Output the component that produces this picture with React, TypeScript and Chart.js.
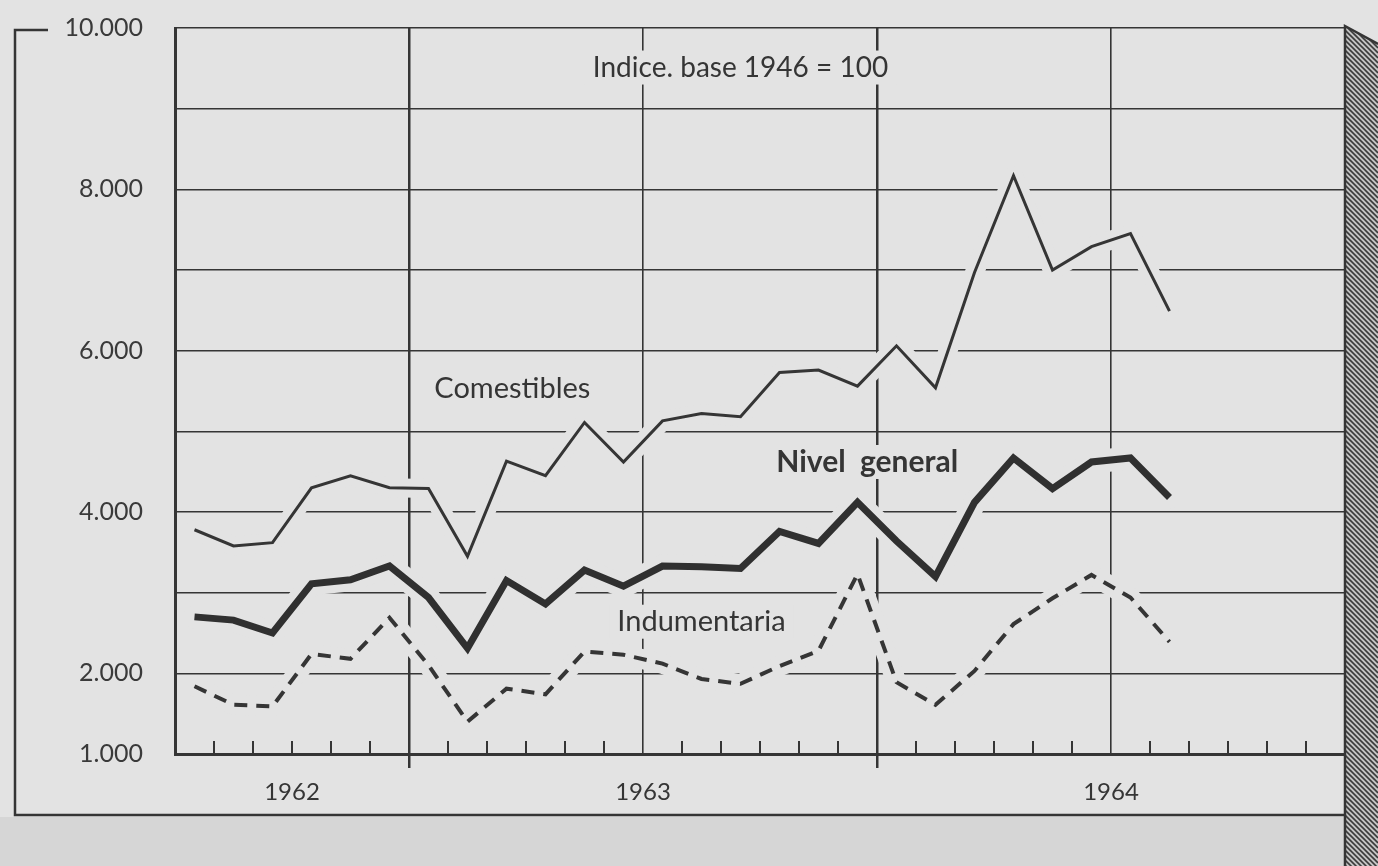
import React, { useEffect, useRef } from "react";
import { Chart, registerables } from "chart.js";

Chart.register(...registerables);

// Monthly observations, July 1962 – August 1964 (índice, base 1946 = 100)
const months = [
  "Jul 1962", "Ago 1962", "Sep 1962", "Oct 1962", "Nov 1962", "Dic 1962",
  "Ene 1963", "Feb 1963", "Mar 1963", "Abr 1963", "May 1963", "Jun 1963",
  "Jul 1963", "Ago 1963", "Sep 1963", "Oct 1963", "Nov 1963", "Dic 1963",
  "Ene 1964", "Feb 1964", "Mar 1964", "Abr 1964", "May 1964", "Jun 1964",
  "Jul 1964", "Ago 1964",
];

const comestibles = [
  3780, 3580, 3620, 4300, 4450, 4300,
  4290, 3450, 4630, 4450, 5110, 4620,
  5130, 5220, 5180, 5730, 5760, 5560,
  6060, 5540, 6970, 8170, 7000, 7290,
  7450, 6490,
];

const nivelGeneral = [
  2700, 2660, 2500, 3110, 3160, 3330,
  2940, 2310, 3150, 2860, 3280, 3080,
  3330, 3320, 3300, 3760, 3610, 4120,
  3640, 3200, 4120, 4670, 4290, 4620,
  4670, 4180,
];

const indumentaria = [
  1840, 1610, 1590, 2240, 2180, 2690,
  2100, 1400, 1810, 1740, 2270, 2230,
  2120, 1930, 1870, 2090, 2280, 3230,
  1890, 1610, 2030, 2610, 2930, 3220,
  2940, 2390,
];

// Axis: 30 months (Jul 1962 – Dec 1964), ticks on month boundaries
const axisMonthCount = 30;
const yearLabels = ["1962", "1963", "1964"];
const yearLabelAt = [3, 12, 24];
const yearBoundaries = [6, 18];
const midYearLines = [12, 24];
const yLabelValues = [1000, 2000, 4000, 6000, 8000, 10000];

const titleText = "Indice. base 1946 = 100";
const seriesLabels = ["Comestibles", "Nivel general", "Indumentaria"];

const PAPER = "#e3e3e3";
const INK = "#353535";
const FONT = "Lato, 'Open Sans', sans-serif";

const fmtThousands = (v: number) =>
  String(Math.round(v)).replace(/\B(?=(\d{3})+(?!\d))/g, ".");

export default function App() {
  const canvasRef = useRef<HTMLCanvasElement | null>(null);

  useEffect(() => {
    document.body.style.background = PAPER;
    const canvas = canvasRef.current;
    if (!canvas) return;

    const toPoints = (arr: number[]) => arr.map((v, i) => ({ x: i + 0.5, y: v }));

    const backgroundPlugin = {
      id: "paperBackground",
      beforeDraw(chart: any) {
        const { ctx, width, height, chartArea } = chart;
        ctx.save();
        ctx.fillStyle = PAPER;
        ctx.fillRect(0, 0, width, height);
        // darker area below the card
        ctx.fillStyle = "#d6d6d6";
        ctx.fillRect(0, 817, width, height - 817);
        // outer frame
        ctx.strokeStyle = INK;
        ctx.lineWidth = 2.5;
        ctx.beginPath();
        ctx.moveTo(48, 30);
        ctx.lineTo(15, 30);
        ctx.lineTo(15, 815);
        ctx.lineTo(chartArea.right + 4, 815);
        ctx.stroke();
        // hatched 3D side on the right
        const x0 = chartArea.right;
        const x1 = width;
        const topY = chartArea.top - 2;
        ctx.beginPath();
        ctx.moveTo(x0, topY);
        ctx.lineTo(x1, topY + 18);
        ctx.lineTo(x1, height);
        ctx.lineTo(x0, height);
        ctx.closePath();
        ctx.fillStyle = "#c4c4c4";
        ctx.fill();
        ctx.save();
        ctx.clip();
        ctx.strokeStyle = "#3a3a3a";
        ctx.lineWidth = 1.6;
        for (let k = -60; k < height + 60; k += 5) {
          ctx.beginPath();
          ctx.moveTo(x0, k);
          ctx.lineTo(x1, k + (x1 - x0));
          ctx.stroke();
        }
        ctx.restore();
        ctx.strokeStyle = INK;
        ctx.lineWidth = 2.5;
        ctx.beginPath();
        ctx.moveTo(x0, height);
        ctx.lineTo(x0, topY);
        ctx.lineTo(x1, topY + 18);
        ctx.stroke();
        ctx.restore();
      },
    };

    const decorPlugin = {
      id: "decor",
      beforeDatasetsDraw(chart: any) {
        const { ctx, chartArea } = chart;
        const xs = chart.scales.x;
        const ys = chart.scales.y;
        ctx.save();
        // halos: gridlines are interrupted where the curves cross them
        ctx.save();
        ctx.beginPath();
        ctx.rect(chartArea.left + 2, chartArea.top + 2, chartArea.right - chartArea.left - 4, chartArea.bottom - chartArea.top - 4);
        ctx.clip();
        chart.data.datasets.forEach((ds: any, i: number) => {
          const meta = chart.getDatasetMeta(i);
          ctx.beginPath();
          let started = false;
          meta.data.forEach((pt: any) => {
            if (!started) {
              ctx.moveTo(pt.x, pt.y);
              started = true;
            } else ctx.lineTo(pt.x, pt.y);
          });
          ctx.lineWidth = (ds.borderWidth as number) + 16;
          ctx.strokeStyle = PAPER;
          ctx.lineJoin = "round";
          ctx.lineCap = "round";
          ctx.stroke();
        });
        ctx.restore();

        // month tick marks standing on the baseline
        ctx.strokeStyle = INK;
        ctx.lineWidth = 2;
        for (let m = 1; m < axisMonthCount; m++) {
          if (yearBoundaries.includes(m) || midYearLines.includes(m)) continue;
          const px = xs.getPixelForValue(m);
          ctx.beginPath();
          ctx.moveTo(px, chartArea.bottom);
          ctx.lineTo(px, chartArea.bottom - 13);
          ctx.stroke();
        }

        // text labels with paper-coloured knock-out behind them
        const labels = [
          { text: titleText, x: 14.5, y: 9510, font: `400 28px ${FONT}`, ws: "0px" },
          { text: seriesLabels[0], x: 8.65, y: 5530, font: `400 29px ${FONT}`, ws: "0px" },
          { text: seriesLabels[1], x: 17.75, y: 4620, font: `700 30px ${FONT}`, ws: "7px" },
          { text: seriesLabels[2], x: 13.5, y: 2640, font: `400 29px ${FONT}`, ws: "0px" },
        ];
        ctx.textAlign = "center";
        ctx.textBaseline = "middle";
        labels.forEach((l) => {
          ctx.font = l.font;
          try {
            (ctx as any).wordSpacing = l.ws;
          } catch (e) {
            /* ignore */
          }
          const px = xs.getPixelForValue(l.x);
          const py = ys.getPixelForValue(l.y);
          const w = ctx.measureText(l.text).width;
          ctx.fillStyle = PAPER;
          ctx.fillRect(px - w / 2 - 8, py - 17, w + 16, 34);
          ctx.fillStyle = INK;
          ctx.fillText(l.text, px, py);
        });
        try {
          (ctx as any).wordSpacing = "0px";
        } catch (e) {
          /* ignore */
        }
        ctx.restore();
      },
    };

    const chart = new Chart(canvas, {
      type: "line",
      data: {
        labels: months,
        datasets: [
          {
            label: seriesLabels[0],
            data: toPoints(comestibles),
            borderColor: INK,
            borderWidth: 3,
            pointRadius: 0,
            tension: 0,
            fill: false,
          },
          {
            label: seriesLabels[1],
            data: toPoints(nivelGeneral),
            borderColor: "#303030",
            borderWidth: 7,
            pointRadius: 0,
            tension: 0,
            fill: false,
            borderJoinStyle: "miter",
          },
          {
            label: seriesLabels[2],
            data: toPoints(indumentaria),
            borderColor: INK,
            borderWidth: 4,
            borderDash: [13, 9],
            pointRadius: 0,
            tension: 0,
            fill: false,
          },
        ],
      },
      options: {
        animation: false,
        responsive: false,
        maintainAspectRatio: false,
        layout: { padding: { left: 0, right: 33, top: 28, bottom: 0 } },
        plugins: {
          legend: { display: false },
          tooltip: { enabled: false },
          title: { display: false },
        },
        scales: {
          x: {
            type: "linear",
            min: 0,
            max: axisMonthCount,
            afterFit: (s: any) => {
              s.height = 112;
              s.paddingLeft = 0;
              s.paddingRight = 0;
            },
            ticks: {
              stepSize: 1,
              autoSkip: false,
              maxRotation: 0,
              padding: 10,
              color: INK,
              font: { family: FONT, size: 24 },
              callback: (v: any) => {
                const idx = yearLabelAt.indexOf(Number(v));
                return idx >= 0 ? yearLabels[idx] : "";
              },
            },
            grid: {
              color: (c: any) => {
                const v = c.tick ? c.tick.value : -1;
                return yearBoundaries.includes(v) || midYearLines.includes(v) ? INK : "rgba(0,0,0,0)";
              },
              lineWidth: (c: any) => {
                const v = c.tick ? c.tick.value : -1;
                return yearBoundaries.includes(v) ? 2.5 : 1.6;
              },
              tickColor: (c: any) => {
                const v = c.tick ? c.tick.value : -1;
                return yearBoundaries.includes(v) ? INK : "rgba(0,0,0,0)";
              },
              tickLength: 14,
              tickWidth: 2.5,
            },
            border: { display: true, color: INK, width: 3 },
          },
          y: {
            type: "linear",
            min: 1000,
            max: 10000,
            afterFit: (s: any) => {
              s.width = 175;
              s.paddingTop = 0;
              s.paddingBottom = 0;
            },
            ticks: {
              stepSize: 1000,
              autoSkip: false,
              padding: 32,
              color: "#3a3a3a",
              font: { family: FONT, size: 25 },
              callback: (v: any) => (yLabelValues.includes(Number(v)) ? fmtThousands(Number(v)) : ""),
            },
            grid: {
              color: INK,
              lineWidth: 1.6,
              drawTicks: false,
            },
            border: { display: true, color: INK, width: 3 },
          },
        },
      },
      plugins: [backgroundPlugin, decorPlugin],
    } as any);

    return () => chart.destroy();
  }, []);

  return (
    <div style={{ position: "absolute", left: 0, top: 0, width: 1378, height: 866 }}>
      <canvas ref={canvasRef} width={1378} height={866} />
    </div>
  );
}
